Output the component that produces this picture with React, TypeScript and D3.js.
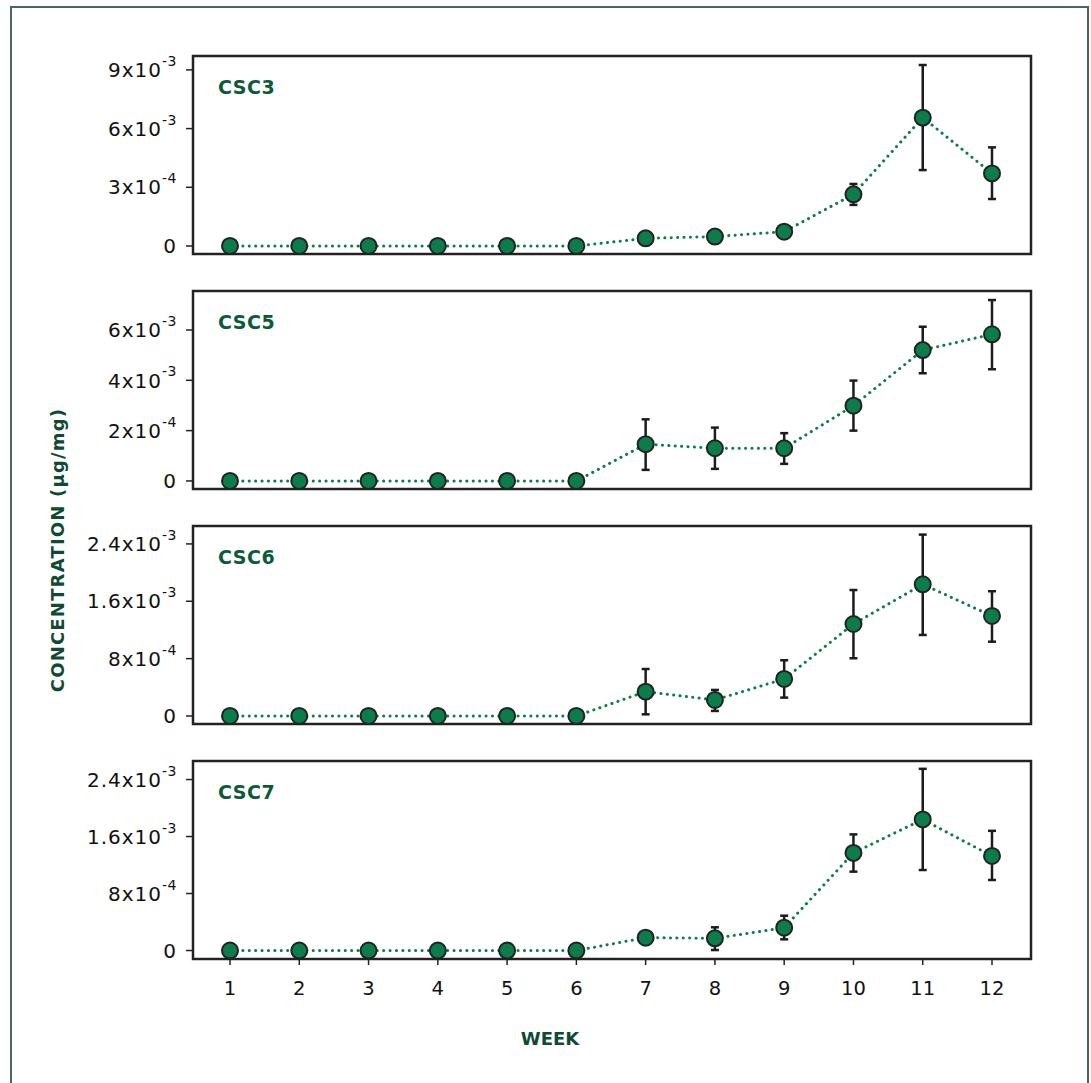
import React from "react";
import * as d3 from "d3";

// values in the units of each panel's tick labels (10^-3 for CSC3/CSC5, 10^-4 for CSC6/CSC7)
const weeks = [1, 2, 3, 4, 5, 6, 7, 8, 9, 10, 11, 12];

const csc3Mean = [0, 0, 0, 0, 0, 0, 0.39, 0.48, 0.73, 2.64, 6.56, 3.71];
const csc3Upper = [null, null, null, null, null, null, null, null, null, 3.17, 9.25, 5.04];
const csc3Lower = [null, null, null, null, null, null, null, null, null, 2.1, 3.88, 2.4];

const csc5Mean = [0, 0, 0, 0, 0, 0, 1.46, 1.3, 1.3, 2.99, 5.2, 5.83];
const csc5Upper = [null, null, null, null, null, null, 2.45, 2.12, 1.9, 3.99, 6.13, 7.19];
const csc5Lower = [null, null, null, null, null, null, 0.44, 0.48, 0.68, 2.0, 4.28, 4.44];

const csc6Mean = [0, 0, 0, 0, 0, 0, 3.39, 2.23, 5.16, 12.83, 18.37, 13.95];
const csc6Upper = [null, null, null, null, null, null, 6.55, 3.63, 7.77, 17.57, 25.3, 17.4];
const csc6Lower = [null, null, null, null, null, null, 0.23, 0.7, 2.56, 8.05, 11.3, 10.36];

const csc7Mean = [0, 0, 0, 0, 0, 0, 1.8, 1.71, 3.2, 13.7, 18.4, 13.27];
const csc7Upper = [null, null, null, null, null, null, null, 3.26, 4.89, 16.3, 25.5, 16.8];
const csc7Lower = [null, null, null, null, null, null, null, 0.07, 1.57, 11.07, 11.3, 9.9];

const csc3Ticks = [0, 3, 6, 9];
const csc3TickMant = ["0", "3x10", "6x10", "9x10"];
const csc3TickExp = ["", "-4", "-3", "-3"];

const csc5Ticks = [0, 2, 4, 6];
const csc5TickMant = ["0", "2x10", "4x10", "6x10"];
const csc5TickExp = ["", "-4", "-3", "-3"];

const csc6Ticks = [0, 8, 16, 24];
const csc6TickMant = ["0", "8x10", "1.6x10", "2.4x10"];
const csc6TickExp = ["", "-4", "-3", "-3"];

const csc7Ticks = [0, 8, 16, 24];
const csc7TickMant = ["0", "8x10", "1.6x10", "2.4x10"];
const csc7TickExp = ["", "-4", "-3", "-3"];

const panels = [
  { name: "CSC3", mean: csc3Mean, upper: csc3Upper, lower: csc3Lower, ticks: csc3Ticks, mant: csc3TickMant, exp: csc3TickExp, domain: [-0.41, 9.71] },
  { name: "CSC5", mean: csc5Mean, upper: csc5Upper, lower: csc5Lower, ticks: csc5Ticks, mant: csc5TickMant, exp: csc5TickExp, domain: [-0.32, 7.55] },
  { name: "CSC6", mean: csc6Mean, upper: csc6Upper, lower: csc6Lower, ticks: csc6Ticks, mant: csc6TickMant, exp: csc6TickExp, domain: [-1.12, 26.5] },
  { name: "CSC7", mean: csc7Mean, upper: csc7Upper, lower: csc7Lower, ticks: csc7Ticks, mant: csc7TickMant, exp: csc7TickExp, domain: [-1.19, 26.6] },
];

const FONT = "'DejaVu Sans', 'Noto Sans', sans-serif";
const GREEN = "#0a7d4b";
const DARK = "#222222";
const TITLE = "#0f4a34";

function App() {
  const W = 1091;
  const H = 1083;
  const left = 193;
  const right = 1031;
  const firstTop = 56;
  const panelH = 198;
  const gap = 235;

  const x = d3.scaleLinear().domain([1, 12]).range([230, 992]);

  return (
    <svg
      width={W}
      height={H}
      style={{ position: "absolute", left: 0, top: 0, background: "#fff" }}
      fontFamily={FONT}
    >
      <path d={`M11,${H + 5} V7 H1088 V${H + 5}`} fill="none" stroke="#47675f" strokeWidth={2} />

      {panels.map((p, pi) => {
        const top = firstTop + pi * gap;
        const bottom = top + panelH;
        const y = d3.scaleLinear().domain(p.domain).range([bottom, top]);
        const line = d3
          .line<number>()
          .x((d, i) => x(weeks[i]))
          .y((d) => y(d));
        const isLast = pi === panels.length - 1;
        return (
          <g key={p.name}>
            <rect x={left} y={top} width={right - left} height={panelH} fill="none" stroke={DARK} strokeWidth={2.5} />
            {p.ticks.map((t, i) => (
              <g key={t} transform={`translate(0,${y(t)})`}>
                <line x1={186} x2={left} stroke={DARK} strokeWidth={1.5} />
                <text x={177} dy="0.36em" textAnchor="end" fontSize={20} letterSpacing={1} fill="#111">
                  {p.mant[i]}
                  {p.exp[i] && (
                    <tspan fontSize={14} letterSpacing={0.5} dy="-0.8em">
                      {p.exp[i]}
                    </tspan>
                  )}
                </text>
              </g>
            ))}
            <text x={218} y={top + 38} fontSize={19} letterSpacing={0.5} fontWeight={700} fill="#0b5a3a">
              {p.name}
            </text>
            <path
              d={line(p.mean) || ""}
              fill="none"
              stroke={GREEN}
              strokeWidth={3}
              strokeDasharray="0.1 6.3"
              strokeLinecap="round"
            />
            {weeks.map((w, i) =>
              p.upper[i] != null ? (
                <g key={w} stroke="#1c1c1c" strokeWidth={2.5}>
                  <line x1={x(w)} x2={x(w)} y1={y(p.upper[i] as number)} y2={y(p.lower[i] as number)} />
                  <line x1={x(w) - 4} x2={x(w) + 4} y1={y(p.upper[i] as number)} y2={y(p.upper[i] as number)} />
                  <line x1={x(w) - 4} x2={x(w) + 4} y1={y(p.lower[i] as number)} y2={y(p.lower[i] as number)} />
                </g>
              ) : null
            )}
            {weeks.map((w, i) => (
              <circle key={w} cx={x(w)} cy={y(p.mean[i])} r={8} fill={GREEN} stroke={DARK} strokeWidth={2} />
            ))}
            {isLast &&
              weeks.map((w) => (
                <g key={w} transform={`translate(${x(w)},${bottom})`}>
                  <line y1={0} y2={6} stroke={DARK} strokeWidth={1.5} />
                  <text y={36} textAnchor="middle" fontSize={19.5} fill="#111">
                    {w}
                  </text>
                </g>
              ))}
          </g>
        );
      })}

      <text
        transform="translate(64,550) rotate(-90)"
        textAnchor="middle"
        fontSize={18}
        letterSpacing={1.2}
        fontWeight={700}
        fill={TITLE}
      >
        CONCENTRATION (μg/mg)
      </text>
      <text x={550} y={1045} textAnchor="middle" fontSize={18} fontWeight={700} fill={TITLE}>
        WEEK
      </text>
    </svg>
  );
}

export default App;
